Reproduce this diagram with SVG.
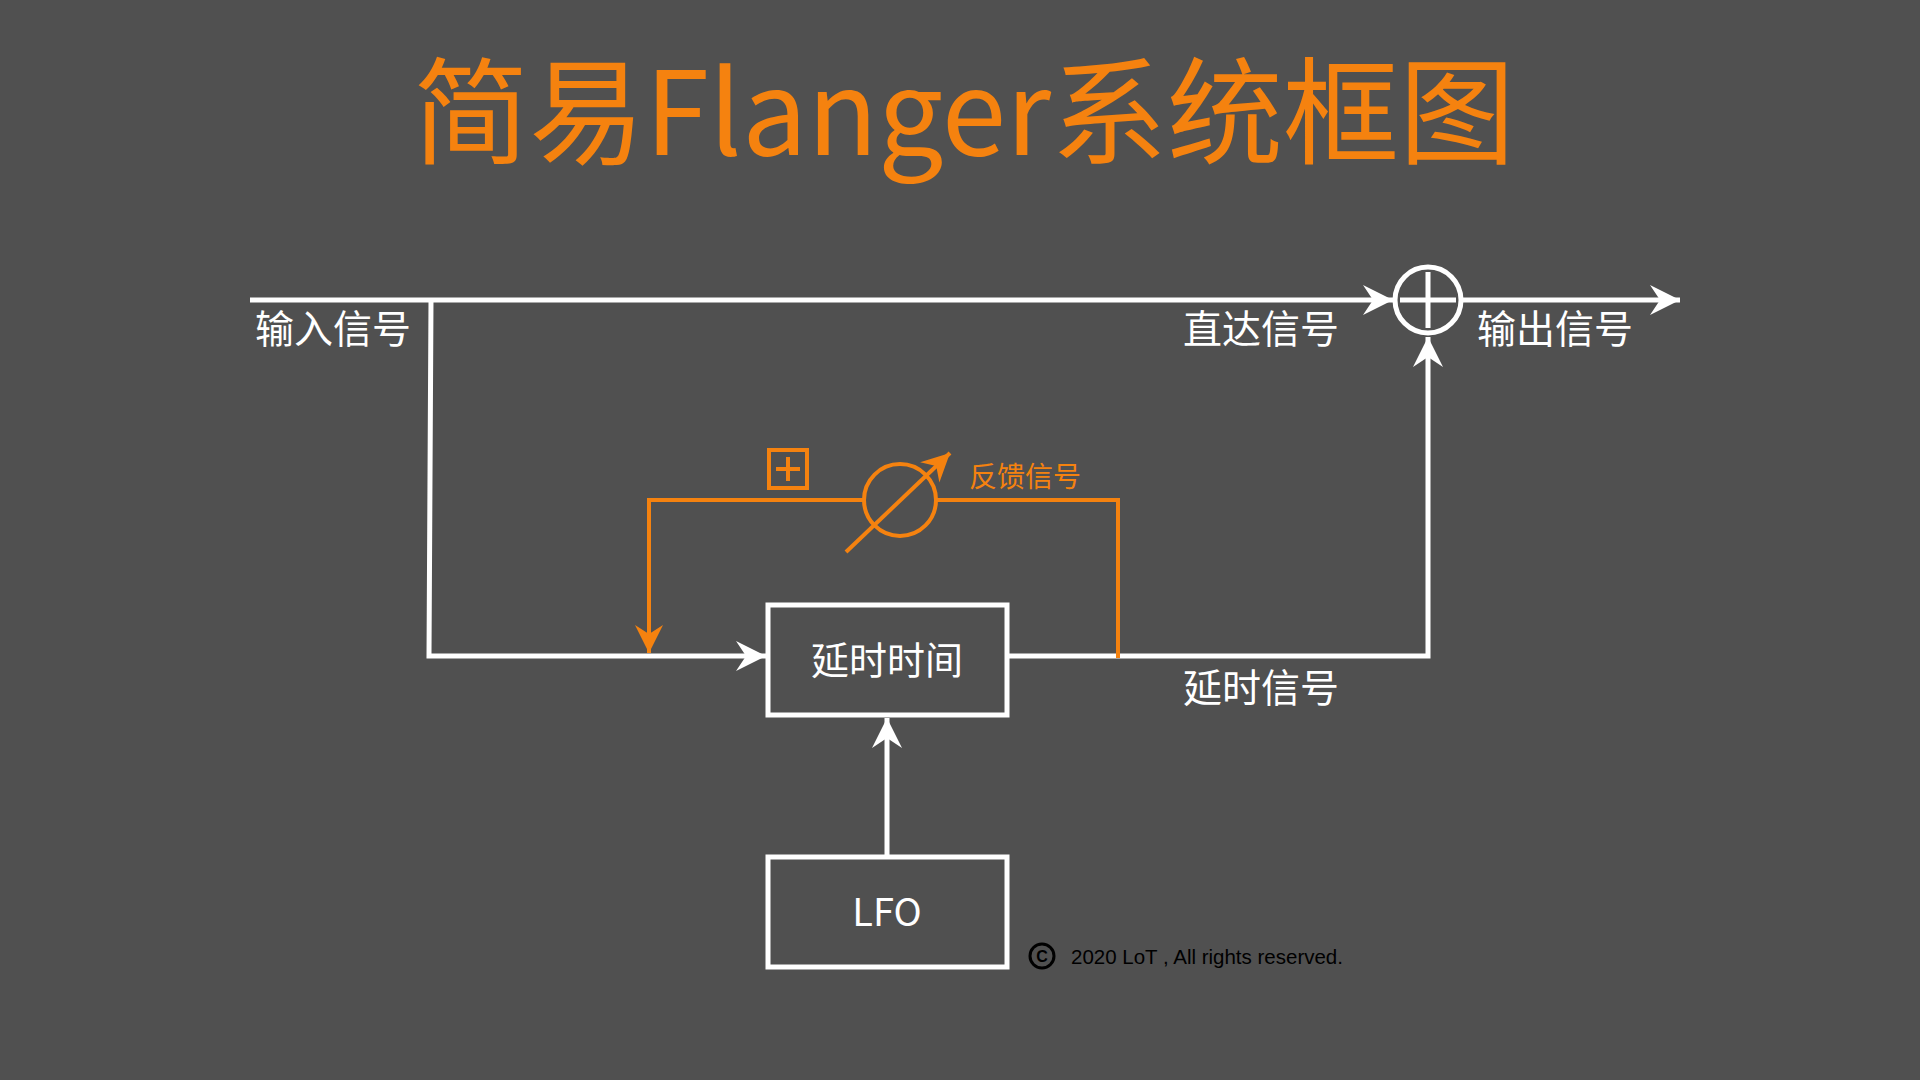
<svg xmlns="http://www.w3.org/2000/svg" width="1920" height="1080" viewBox="0 0 1920 1080">
<style>
.w{stroke:#fff;stroke-width:5;fill:none}
.o{stroke:#f5820f;stroke-width:4;fill:none}
.t{font-family:"Noto Sans CJK SC","Liberation Sans",sans-serif;fill:#fff}
</style>
<defs>
<marker id="aw" viewBox="-32 -16 34 32" refX="0" refY="0" markerWidth="34" markerHeight="32" markerUnits="userSpaceOnUse" orient="auto"><path d="M-30,-15 L0,0 L-30,15 L-20,0 Z" fill="#fff"/></marker>
<marker id="ao" viewBox="-32 -16 34 32" refX="0" refY="0" markerWidth="34" markerHeight="32" markerUnits="userSpaceOnUse" orient="auto"><path d="M-28,-14 L0,0 L-28,14 L-19,0 Z" fill="#f5820f"/></marker>
</defs>
<rect width="1920" height="1080" fill="#505050"/>
<text x="964" y="155" text-anchor="middle" font-family="Noto Sans CJK SC, sans-serif" font-size="116" fill="#f5820f">简易Flanger系统框图</text>
<g id="connectors">
<path class="w" d="M250,300 H1393" marker-end="url(#aw)"/>
<path class="w" d="M1462,300 H1680" marker-end="url(#aw)"/>
<path class="w" d="M431,300 L429,656 H766" marker-end="url(#aw)"/>
<path class="w" d="M1007,656 H1428 V337" marker-end="url(#aw)"/>
<path class="w" d="M887,857 V718" marker-end="url(#aw)"/>
<path class="o" d="M864,500 H649 V653" marker-end="url(#ao)"/>
<path class="o" d="M936,500 H1118 V658"/>
</g>
<g id="sum"><circle cx="1428" cy="300" r="33" class="w"/><path class="w" d="M1428,272 V328 M1400,300 H1456"/></g>
<g id="delay"><rect x="768" y="605" width="239" height="110" class="w"/><text class="t" x="887" y="674" text-anchor="middle" font-size="38">延时时间</text></g>
<g id="lfo"><rect x="768" y="857" width="239" height="110" class="w"/><text class="t" x="887" y="926" text-anchor="middle" font-size="38">LFO</text></g>
<g id="gain"><circle cx="900" cy="500" r="36" class="o"/><path class="o" d="M846,552 L950,453" marker-end="url(#ao)"/>
<rect x="769" y="450" width="38" height="38" class="o"/><path class="o" d="M788,457 V481 M776,469 H800"/></g>
<g id="labels">
<text class="t" x="255" y="343" font-size="39">输入信号</text>
<text class="t" x="1183" y="343" font-size="39">直达信号</text>
<text class="t" x="1477" y="343" font-size="39">输出信号</text>
<text class="t" x="1183" y="702" font-size="39">延时信号</text>
<text x="969" y="487" font-family="Noto Sans CJK SC, sans-serif" font-size="28" fill="#f5820f">反馈信号</text>
</g>
<g id="copyright"><circle cx="1042" cy="956" r="12" fill="none" stroke="#000" stroke-width="3"/><text x="1042" y="962" text-anchor="middle" font-family="Liberation Sans, sans-serif" font-size="16" font-weight="bold" fill="#000">C</text>
<text x="1071" y="964" font-family="Liberation Sans, sans-serif" font-size="20.5" fill="#000">2020 LoT , All rights reserved.</text></g>
</svg>
